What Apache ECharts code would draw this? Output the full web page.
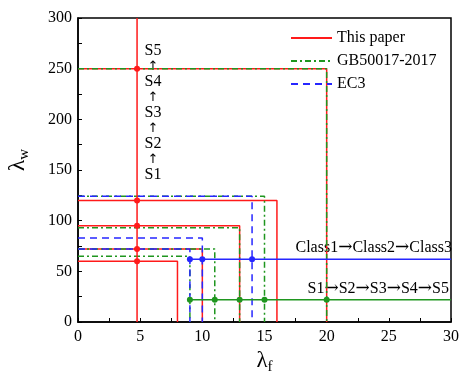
<!DOCTYPE html>
<html>
<head>
<meta charset="utf-8">
<script src="https://cdn.jsdelivr.net/npm/echarts@6/dist/echarts.min.js"></script>
<style>
  html, body { margin: 0; padding: 0; background: #fff; }
  #chart { width: 462px; height: 381px; }
</style>
</head>
<body>
<div id="chart"></div>
<script>
// 截面分级界限 (翼缘宽厚比 λf, 腹板高厚比 λw)
const paperFlange = [8, 10, 13, 16, 20]
const paperWeb = [60, 72, 95, 120, 250]
const gbFlange = [9, 11, 13, 15, 20]
const gbWeb = [65, 72, 93, 124, 250]
const ec3Flange = [9, 10, 14]
const ec3Web = [72, 83, 124]
// 辅助线
const paperLineFlange = 4.75
const ec3LineWeb = 62
const gbLineWeb = 22
const xMax = 30
const yMax = 300

const FONT = '"Liberation Serif", "Times New Roman", serif'
const RED = '#ff1a1a'
const GREEN = '#1f961f'
const BLUE = '#2626ff'

// 每个等级画一个"L"形边界，中间用 '-' 断开
function boxes(flange, web) {
  let data = []
  for (let i = 0; i < flange.length; i++) {
    data.push([0, web[i]], [flange[i], web[i]], [flange[i], 0], '-')
  }
  return data
}

function pointLine(xs, y) {
  let data = xs.map(x => [x, y])
  data.push({ value: [xMax, y], symbol: 'none' })
  return data
}

const paperLine = [{ value: [paperLineFlange, 0], symbol: 'none' }]
  .concat(paperWeb.map(w => [paperLineFlange, w]))
  .concat([{ value: [paperLineFlange, yMax], symbol: 'none' }])

const arrowRich = {
  t: { fontSize: 16, fontFamily: FONT, color: '#000' },
  a: { fontSize: 17, fontFamily: '"DejaVu Serif", serif', color: '#000' },
}
const nameRich = {
  l: { fontSize: 23, fontFamily: FONT, color: '#000' },
  s: { fontSize: 15, fontFamily: FONT, color: '#000', padding: [12, 0, 0, 0] },
}

const option = {
  animation: false,
  textStyle: { fontFamily: FONT },
  grid: {
    left: 78,
    right: 7,
    top: 18,
    bottom: 59,
    show: true,
    borderColor: '#000',
    borderWidth: 1.5,
  },
  legend: {
    data: ['This paper', 'GB50017-2017', 'EC3'],
    orient: 'vertical',
    left: 290,
    top: 30,
    padding: 0,
    itemWidth: 41,
    itemHeight: 2,
    itemGap: 7,
    itemStyle: { opacity: 0 },
    textStyle: { fontSize: 16, color: '#000', fontFamily: FONT },
  },
  xAxis: {
    type: 'value',
    min: 0,
    max: xMax,
    interval: 5,
    name: '{l|λ}{s|f}',
    nameLocation: 'middle',
    nameGap: 21,
    nameTextStyle: { rich: nameRich },
    axisLine: { lineStyle: { color: '#000', width: 1.5 } },
    axisTick: { inside: true, length: 4, lineStyle: { color: '#000' } },
    minorTick: { show: true, splitNumber: 2, length: 4, lineStyle: { color: '#000' } },
    axisLabel: { fontSize: 16, color: '#000', fontFamily: FONT, margin: 7 },
    splitLine: { show: false },
  },
  yAxis: {
    type: 'value',
    min: 0,
    max: yMax,
    interval: 50,
    axisLine: { lineStyle: { color: '#000', width: 1.5 } },
    axisTick: { inside: true, length: 4, lineStyle: { color: '#000' } },
    minorTick: { show: true, splitNumber: 2, length: 4, lineStyle: { color: '#000' } },
    axisLabel: { fontSize: 16, color: '#000', fontFamily: FONT, margin: 6 },
    splitLine: { show: false },
  },
  series: [
    {
      name: 'This paper',
      type: 'line',
      data: boxes(paperFlange, paperWeb),
      symbol: 'none',
      color: RED,
      lineStyle: { color: RED, width: 1.5 },
    },
    {
      name: 'GB50017-2017',
      type: 'line',
      data: boxes(gbFlange, gbWeb),
      symbol: 'none',
      color: GREEN,
      lineStyle: { color: GREEN, width: 1.5, type: [6, 3, 2, 3] },
    },
    {
      name: 'EC3',
      type: 'line',
      data: boxes(ec3Flange, ec3Web),
      symbol: 'none',
      color: BLUE,
      lineStyle: { color: BLUE, width: 1.5, type: [7, 5] },
    },
    {
      name: 'paperLine',
      type: 'line',
      data: paperLine,
      symbol: 'circle',
      symbolSize: 6,
      color: RED,
      itemStyle: { color: RED },
      lineStyle: { color: RED, width: 1.5 },
    },
    {
      name: 'ec3Line',
      type: 'line',
      data: pointLine(ec3Flange, ec3LineWeb),
      symbol: 'circle',
      symbolSize: 6,
      color: BLUE,
      itemStyle: { color: BLUE },
      lineStyle: { color: BLUE, width: 1.5 },
    },
    {
      name: 'gbLine',
      type: 'line',
      data: pointLine(gbFlange, gbLineWeb),
      symbol: 'circle',
      symbolSize: 6,
      color: GREEN,
      itemStyle: { color: GREEN },
      lineStyle: { color: GREEN, width: 1.5 },
    },
  ],
  graphic: [
    {
      // y轴名称 竖排
      type: 'text',
      x: 18,
      y: 160,
      rotation: Math.PI / 2,
      style: {
        text: '{l|λ}{s|w}',
        rich: nameRich,
        align: 'center',
        verticalAlign: 'middle',
      },
    },
    {
      type: 'text',
      left: 143,
      top: 43,
      style: {
        text: '{t|S5}\n{a|↑}\n{t|S4}\n{a|↑}\n{t|S3}\n{a|↑}\n{t|S2}\n{a|↑}\n{t|S1}',
        rich: {
          t: { fontSize: 16, fontFamily: FONT, color: '#000', lineHeight: 15.5, align: 'center', width: 20 },
          a: { fontSize: 13, fontFamily: '"DejaVu Sans", sans-serif', color: '#000', lineHeight: 15.5, align: 'center', width: 20 },
        },
      },
    },
    {
      type: 'text',
      right: 10,
      top: 239,
      style: {
        text: '{t|Class1}{a|→}{t|Class2}{a|→}{t|Class3}',
        rich: arrowRich,
      },
    },
    {
      type: 'text',
      right: 13,
      top: 280,
      style: {
        text: '{t|S1}{a|→}{t|S2}{a|→}{t|S3}{a|→}{t|S4}{a|→}{t|S5}',
        rich: arrowRich,
      },
    },
  ],
}

let myChart = echarts.init(document.getElementById('chart'))
myChart.setOption(option, true)
</script>
</body>
</html>
